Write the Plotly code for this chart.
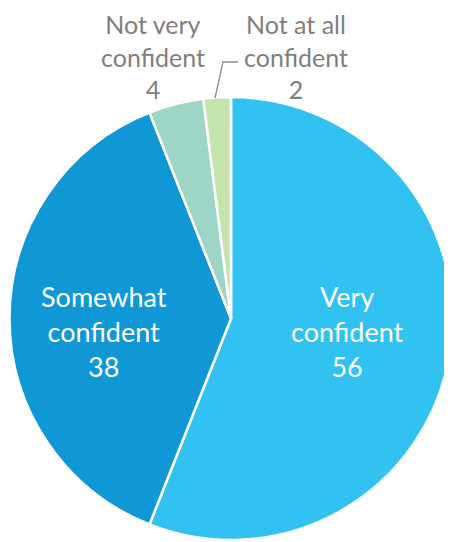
import plotly.graph_objects as go

categories = ["Very confident", "Somewhat confident", "Not very confident", "Not at all confident"]
label_lines = ["Very<br>confident", "Somewhat<br>confident", "Not very<br>confident", "Not at all<br>confident"]
values = [56, 38, 4, 2]
colors = ["#32C2F1", "#1097D5", "#9DD5C6", "#C4E4AD"]

W, H = 452, 542
OFF = 8  # page body margin

def px(x, y):
    """window pixel -> paper coords"""
    return (x - OFF) / W, 1 - (y - OFF) / H

d0 = px(9, 540)
d1 = px(453, 97)

fig = go.Figure(go.Pie(
    labels=categories,
    values=values,
    sort=False,
    direction="clockwise",
    rotation=0,
    marker=dict(colors=colors, line=dict(color="white", width=2.5)),
    textinfo="none",
    hoverinfo="label+value",
    showlegend=False,
    domain=dict(x=[d0[0], d1[0]], y=[d0[1], d1[1]]),
))

# label placements (window pixel centres) for each category
label_pos = [(347, 331), (104, 331), (153, 56), (296, 56)]
label_col = ["white", "white", "#7F7F7F", "#7F7F7F"]
label_size = [27, 27, 25, 25]

annotations = []
for txt, val, (x, y), col, sz in zip(label_lines, values, label_pos, label_col, label_size):
    ax, ay = px(x, y)
    annotations.append(dict(
        x=ax, y=ay, xref="paper", yref="paper",
        text=f"{txt}<br>{val}", showarrow=False,
        font=dict(family="Lato, 'Open Sans', sans-serif", size=sz, color=col),
        align="center", xanchor="center", yanchor="middle",
        borderpad=0,
    ))

# leader line for the smallest slice
p1, p2, p3 = px(215, 98), px(223, 62), px(238, 62)
shapes = [dict(
    type="path", xref="paper", yref="paper",
    path=f"M {p1[0]},{p1[1]} L {p2[0]},{p2[1]} L {p3[0]},{p3[1]}",
    line=dict(color="#8C8C8C", width=1.3),
)]

fig.update_layout(
    width=W, height=H,
    margin=dict(l=0, r=0, t=0, b=0),
    paper_bgcolor="white",
    plot_bgcolor="white",
    annotations=annotations,
    shapes=shapes,
)

fig.write_html("out.html")
